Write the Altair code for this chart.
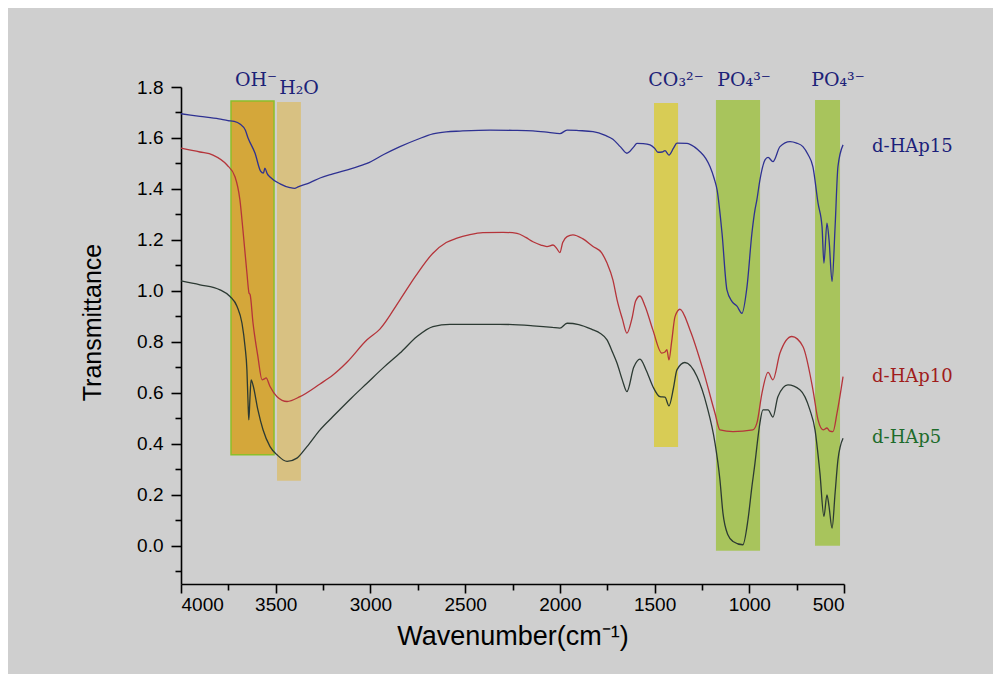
import altair as alt
import pandas as pd

# ---------------- data ----------------
wn15 = [4000, 3900, 3800, 3752, 3720, 3689, 3660, 3646, 3609, 3580, 3565, 3557, 3545, 3530, 3477, 3425,
        3400, 3382, 3319, 3266, 3198, 3100, 3018, 2930, 2844, 2750, 2670, 2600, 2527, 2369, 2250, 2142,
        2060, 2000, 1962, 1900, 1825, 1760, 1720, 1680, 1646, 1610, 1593, 1560, 1524, 1500, 1482, 1460,
        1445, 1424, 1400, 1382, 1329, 1290, 1260, 1230, 1207, 1185, 1170, 1144, 1118, 1091, 1065, 1039,
        1012, 986, 970, 960, 944, 917, 901, 875, 838, 785, 750, 717, 690, 664, 637, 616, 606, 590, 579,
        563, 547, 532, 505]
t15 = [1.695, 1.685, 1.675, 1.668, 1.665, 1.655, 1.63, 1.60, 1.54, 1.47, 1.462, 1.482, 1.46, 1.447, 1.42, 1.405,
       1.402, 1.408, 1.425, 1.443, 1.459, 1.48, 1.50, 1.535, 1.566, 1.595, 1.616, 1.624, 1.627, 1.631, 1.63, 1.628,
       1.622, 1.617, 1.631, 1.629, 1.625, 1.61, 1.595, 1.565, 1.54, 1.565, 1.579, 1.578, 1.573, 1.56, 1.544, 1.545,
       1.55, 1.533, 1.56, 1.58, 1.579, 1.565, 1.546, 1.52, 1.487, 1.44, 1.396, 1.227, 1.004, 0.958, 0.94, 0.912,
       1.017, 1.227, 1.318, 1.357, 1.435, 1.514, 1.524, 1.507, 1.566, 1.586, 1.58, 1.566, 1.535, 1.487, 1.344, 1.252,
       1.109, 1.266, 1.20, 1.037, 1.252, 1.487, 1.573]

wn10 = [4000, 3900, 3831, 3757, 3715, 3689, 3673, 3652, 3641, 3635, 3620, 3594, 3572, 3560, 3551, 3530, 3493,
        3440, 3372, 3266, 3198, 3124, 3018, 2950, 2844, 2760, 2670, 2600, 2543, 2480, 2406, 2300, 2226, 2180,
        2142, 2100, 2068, 2036, 2015, 2000, 1985, 1962, 1931, 1880, 1825, 1780, 1751, 1720, 1698, 1670, 1646,
        1620, 1600, 1577, 1550, 1509, 1462, 1445, 1435, 1424, 1410, 1392, 1366, 1313, 1244, 1181, 1155, 1086,
        981, 960, 933, 901, 875, 838, 775, 717, 664, 637, 610, 590, 575, 558, 537, 505]
t10 = [1.56, 1.545, 1.533, 1.494, 1.448, 1.357, 1.239, 1.07, 0.992, 0.985, 0.875, 0.742, 0.651, 0.655, 0.659, 0.625, 0.585,
       0.566, 0.585, 0.635, 0.67, 0.72, 0.808, 0.85, 0.965, 1.06, 1.148, 1.19, 1.207, 1.22, 1.229, 1.23, 1.226, 1.21,
       1.193, 1.18, 1.174, 1.18, 1.165, 1.15, 1.19, 1.213, 1.22, 1.205, 1.174, 1.15, 1.109, 1.043, 0.965, 0.89, 0.834,
       0.89, 0.96, 0.98, 0.94, 0.847, 0.756, 0.76, 0.769, 0.729, 0.80, 0.899, 0.928, 0.847, 0.69, 0.52, 0.455, 0.448,
       0.455, 0.481, 0.599, 0.68, 0.651, 0.756, 0.821, 0.782, 0.612, 0.494, 0.455, 0.462, 0.45, 0.448, 0.52, 0.664]

wn5 = [4000, 3900, 3794, 3741, 3704, 3678, 3662, 3652, 3646, 3642, 3636, 3630, 3620, 3594, 3567, 3530, 3493,
       3440, 3388, 3335, 3266, 3198, 3100, 3018, 2930, 2844, 2754, 2670, 2580, 2316, 2142, 2040, 2000, 1962,
       1900, 1825, 1788, 1751, 1720, 1698, 1670, 1646, 1610, 1577, 1545, 1509, 1472, 1445, 1424, 1400, 1382,
       1340, 1276, 1223, 1181, 1155, 1139, 1113, 1086, 1034, 1007, 986, 970, 960, 944, 928, 901, 875, 849,
       796, 733, 680, 653, 627, 606, 590, 579, 563, 547, 532, 505]
t5 = [1.039, 1.024, 1.004, 0.978, 0.939, 0.873, 0.782, 0.69, 0.56, 0.494, 0.58, 0.651, 0.631, 0.533, 0.455, 0.389, 0.357,
      0.331, 0.344, 0.389, 0.455, 0.507, 0.58, 0.638, 0.70, 0.756, 0.821, 0.86, 0.869, 0.869, 0.863, 0.857, 0.854, 0.873,
      0.868, 0.847, 0.834, 0.808, 0.756, 0.716, 0.65, 0.605, 0.70, 0.732, 0.69, 0.625, 0.585, 0.583, 0.549, 0.62, 0.69,
      0.719, 0.664, 0.546, 0.403, 0.259, 0.128, 0.043, 0.017, 0.004, 0.102, 0.233, 0.324, 0.389, 0.481, 0.533, 0.533,
      0.505, 0.585, 0.631, 0.612, 0.533, 0.455, 0.285, 0.115, 0.20, 0.154, 0.069, 0.207, 0.337, 0.422]

series_names = ["d-HAp15", "d-HAp10", "d-HAp5"]
line_colors = ["#2e3192", "#b5343a", "#2c3a33"]

# shaded bands
band_x1 = [3736, 3493, 1503, 1176, 653]
band_x2 = [3509, 3367, 1376, 943, 521]
band_y1 = [1.745, 1.741, 1.737, 1.749, 1.749]
band_y2 = [0.357, 0.255, 0.388, -0.02, 0.0]
band_fill = ["#d4a73a", "#d8c182", "#d8cc55", "#a8c45c", "#a8c45c"]
band_stroke = ["#8cbf2a", "#d8c182", "#d8cc55", "#a8c45c", "#a8c45c"]
band_sw = [1.5, 0, 0, 0, 0]

# group labels at top
top_text = ["OH\u207b", "H\u2082O", "CO\u2083\u00b2\u207b", "PO\u2084\u00b3\u207b", "PO\u2084\u00b3\u207b"]
top_x = [3604, 3377, 1387, 1028, 532]
top_y = [1.827, 1.796, 1.827, 1.827, 1.827]

# series labels at right
lab_text = ["d-HAp15", "d-HAp10", "d-HAp5"]
lab_x = [352, 352, 352]
lab_y = [1.565, 0.663, 0.424]
lab_color = ["#1c1f7a", "#a01c1c", "#1d6b2a"]

# ---------------- frames ----------------
lines = pd.concat([
    pd.DataFrame({"wn": wn15, "t": t15, "series": series_names[0]}),
    pd.DataFrame({"wn": wn10, "t": t10, "series": series_names[1]}),
    pd.DataFrame({"wn": wn5, "t": t5, "series": series_names[2]}),
], ignore_index=True)
bands = pd.DataFrame({"x1": band_x1, "x2": band_x2, "y1": band_y1, "y2": band_y2,
                      "fill": band_fill, "stroke": band_stroke, "sw": band_sw})
tops = pd.DataFrame({"x": top_x, "y": top_y, "text": top_text})
labs = pd.DataFrame({"x": lab_x, "y": lab_y, "text": lab_text, "color": lab_color})

# ---------------- scales / axes ----------------
x_scale = alt.Scale(domain=[500, 4000], reverse=True, nice=False, zero=False)
y_scale = alt.Scale(domain=[-0.15, 1.8], nice=False, zero=False)

x_axis = alt.Axis(
    title="Wavenumber(cm\u207b\u00b9)",
    values=list(range(500, 4001, 250)),
    format="d",
    labelExpr="datum.value % 500 === 0 ? datum.label : ''",
    tickSize={"condition": {"test": "datum.value % 500 === 0", "value": 9}, "value": 6},
    grid=False, domainColor="black", domainWidth=1.6, tickColor="black", tickWidth=1.6,
    labelFont="Liberation Sans", labelFontSize=19, labelColor="black", labelPadding=2,
    titleFont="Liberation Sans", titleFontSize=27, titleFontWeight="normal", titleColor="black",
    titleY=52, titleBaseline="middle",
)
y_axis = alt.Axis(
    title="Transmittance",
    values=[round(-0.1 + 0.1 * i, 1) for i in range(20)],
    format=".1f",
    labelExpr="abs(round(datum.value*10)) % 2 === 0 ? datum.label : ''",
    tickSize={"condition": {"test": "abs(round(datum.value*10)) % 2 === 0", "value": 10}, "value": 6},
    grid=False, domainColor="black", domainWidth=1.6, tickColor="black", tickWidth=1.6,
    labelFont="Liberation Sans", labelFontSize=19, labelColor="black", labelPadding=8,
    titleFont="Liberation Sans", titleFontSize=25, titleFontWeight="normal", titleColor="black",
    titleX=-89, titleY=235, titleBaseline="middle", titleAlign="center",
)

band_layer = alt.Chart(bands).mark_rect().encode(
    x=alt.X("x1:Q", scale=x_scale, axis=x_axis),
    x2="x2:Q",
    y=alt.Y("y1:Q", scale=y_scale, axis=y_axis),
    y2="y2:Q",
    fill=alt.Fill("fill:N", scale=None),
    stroke=alt.Stroke("stroke:N", scale=None),
    strokeWidth=alt.StrokeWidth("sw:Q", scale=None),
)

line_layer = alt.Chart(lines).mark_line(strokeWidth=1.3, interpolate="monotone").encode(
    x=alt.X("wn:Q", scale=x_scale, axis=x_axis),
    y=alt.Y("t:Q", scale=y_scale, axis=y_axis),
    color=alt.Color("series:N", scale=alt.Scale(domain=series_names, range=line_colors), legend=None),
    order=alt.Order("wn:Q", sort="descending"),
)

top_layer = alt.Chart(tops).mark_text(font="DejaVu Serif", fontSize=19, color="#1c2278",
                                       align="center", baseline="middle").encode(
    x=alt.X("x:Q", scale=x_scale, axis=x_axis),
    y=alt.Y("y:Q", scale=y_scale, axis=y_axis),
    text="text:N",
)

lab_layer = alt.Chart(labs).mark_text(font="DejaVu Serif", fontSize=18,
                                       align="left", baseline="middle").encode(
    x=alt.X("x:Q", scale=x_scale, axis=x_axis),
    y=alt.Y("y:Q", scale=y_scale, axis=y_axis),
    text="text:N",
    color=alt.Color("color:N", scale=None),
)

chart = alt.layer(band_layer, line_layer, top_layer, lab_layer).properties(
    width=663, height=497,
    padding={"left": 173, "top": 79, "right": 149, "bottom": 90},
    autosize=alt.AutoSizeParams(type="none"),
    background="#cfcfcf",
).configure_view(stroke=None)

chart.save("out.html", embed_options={"renderer": "svg", "actions": False})
